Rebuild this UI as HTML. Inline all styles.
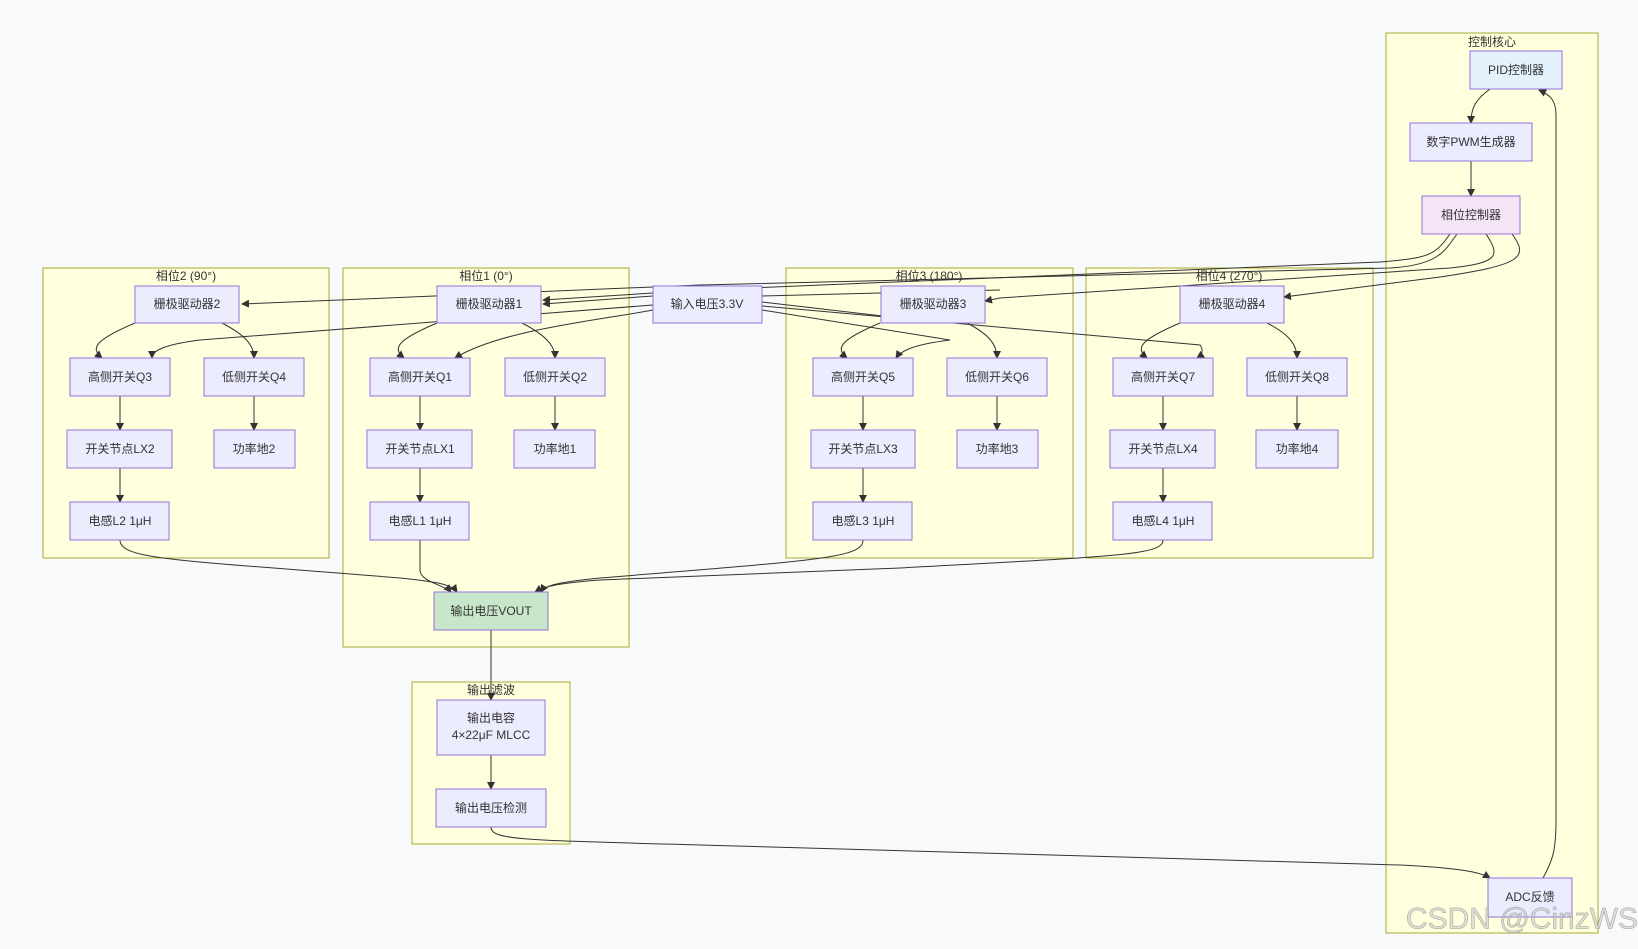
<!DOCTYPE html>
<html><head><meta charset="utf-8"><style>
body{margin:0;background:#f8f9fa;}
svg{display:block;font-family:"Liberation Sans","Noto Sans CJK SC",sans-serif;}
.c{fill:#ffffde;stroke:#aaaa33;stroke-width:1;}
.n{fill:#ececff;stroke:#9370db;stroke-width:1;}
.e{fill:none;stroke:#333;stroke-width:1;marker-end:url(#a);}
.p{fill:none;stroke:#333;stroke-width:1;}
text{font-size:12px;fill:#333;text-anchor:middle;dominant-baseline:central;}
</style></head><body>
<svg width="1638" height="949" viewBox="0 0 1638 949">
<defs><marker id="a" markerWidth="8" markerHeight="8" refX="7" refY="4" orient="auto" markerUnits="userSpaceOnUse"><path d="M0,0L8,4L0,8z" fill="#333"/></marker></defs>
<rect x="0" y="0" width="1638" height="949" fill="#f8f9fa"/>
<rect class="c" x="43" y="268" width="286" height="290"/><text x="186" y="276">相位2 (90°)</text>
<rect class="c" x="343" y="268" width="286" height="379"/><text x="486" y="276">相位1 (0°)</text>
<rect class="c" x="786" y="268" width="287" height="290"/><text x="929" y="276">相位3 (180°)</text>
<rect class="c" x="1086" y="268" width="287" height="290"/><text x="1229" y="276">相位4 (270°)</text>
<rect class="c" x="1386" y="33" width="212" height="900"/><text x="1492" y="42">控制核心</text>
<rect class="c" x="412" y="682" width="158" height="162"/><text x="491" y="690">输出滤波</text>
<g>
<path class="e" d="M1490,89 C1475,100 1471,108 1471,123"/>
<path class="e" d="M1471,161 L1471,196"/>
<path class="e" d="M1450,234 C1435,255 1430,258 1380,262 L700,290 L543,300"/>
<path class="e" d="M1457,234 C1445,250 1440,265 1390,268 L700,285 L242,304"/>
<path class="e" d="M1486,234 C1500,255 1500,263 1450,268 L1000,298 L985,301"/>
<path class="e" d="M1512,234 C1530,258 1520,265 1440,277 L1284,297"/>
<path class="e" d="M653,296 L543,304"/>
<path class="e" d="M653,310 C600,320 500,330 455,358"/>
<path class="e" d="M653,305 L200,340 C160,345 152,352 152,358"/>
<path class="e" d="M762,310 L950,340 C910,345 900,352 896,358"/>
<path class="e" d="M762,306 L1200,345 C1205,352 1200,356 1197,358"/>
<path class="p" d="M762,302 L900,318"/>
<path class="p" d="M762,296 L1000,290"/>
<path class="e" d="M135,323 C95,340 90,348 102,358"/><path class="e" d="M222,323 C245,335 254,345 254,358"/>
<path class="e" d="M437,323 C397,340 392,348 404,358"/><path class="e" d="M522,323 C545,335 555,345 555,358"/>
<path class="e" d="M880,323 C840,340 835,348 847,358"/><path class="e" d="M967,323 C990,335 997,345 997,358"/>
<path class="e" d="M1180,323 C1140,340 1135,348 1147,358"/><path class="e" d="M1267,323 C1290,335 1297,345 1297,358"/>
<path class="e" d="M120,396 L120,430"/><path class="e" d="M254,396 L254,430"/>
<path class="e" d="M120,468 L120,502"/>
<path class="e" d="M420,396 L420,430"/><path class="e" d="M555,396 L555,430"/>
<path class="e" d="M420,468 L420,502"/>
<path class="e" d="M863,396 L863,430"/><path class="e" d="M997,396 L997,430"/>
<path class="e" d="M863,468 L863,502"/>
<path class="e" d="M1163,396 L1163,430"/><path class="e" d="M1297,396 L1297,430"/>
<path class="e" d="M1163,468 L1163,502"/>
<path class="e" d="M120,540 C120,560 180,560 400,578 C440,582 452,585 457,592"/>
<path class="e" d="M420,540 L420,570 C420,582 445,585 451,592"/>
<path class="e" d="M863,540 C863,558 820,560 600,578 C560,582 545,585 541,592"/>
<path class="e" d="M1163,540 C1163,555 1120,556 900,568 L600,580 C560,583 545,586 535,592"/>
<path class="e" d="M491,630 L491,700"/>
<path class="e" d="M491,755 L491,789"/>
<path class="e" d="M491,827 C491,840 520,840 700,845 L1400,865 C1460,868 1480,872 1490,878"/>
<path class="e" d="M1543,878 C1553,860 1556,850 1556,820 L1556,115 C1556,100 1550,95 1539,90"/>
</g>
<g>
<rect class="n" x="1470" y="51" width="92" height="38" style="fill:#e3f2fd"/><text x="1516" y="70">PID控制器</text>
<rect class="n" x="1410" y="123" width="122" height="38"/><text x="1471" y="142">数字PWM生成器</text>
<rect class="n" x="1422" y="196" width="98" height="38" style="fill:#f3e5f5"/><text x="1471" y="215">相位控制器</text>
<rect class="n" x="1488" y="878" width="84" height="39"/><text x="1530" y="897">ADC反馈</text>
<rect class="n" x="653" y="286" width="109" height="37"/><text x="707" y="304">输入电压3.3V</text>
<rect class="n" x="135" y="286" width="104" height="37"/><text x="187" y="304">栅极驱动器2</text>
<rect class="n" x="70" y="358" width="100" height="38"/><text x="120" y="377">高侧开关Q3</text>
<rect class="n" x="204" y="358" width="100" height="38"/><text x="254" y="377">低侧开关Q4</text>
<rect class="n" x="67" y="430" width="105" height="38"/><text x="120" y="449">开关节点LX2</text>
<rect class="n" x="214" y="430" width="81" height="38"/><text x="254" y="449">功率地2</text>
<rect class="n" x="70" y="502" width="99" height="38"/><text x="120" y="521">电感L2 1μH</text>
<rect class="n" x="437" y="286" width="104" height="37"/><text x="489" y="304">栅极驱动器1</text>
<rect class="n" x="370" y="358" width="100" height="38"/><text x="420" y="377">高侧开关Q1</text>
<rect class="n" x="505" y="358" width="100" height="38"/><text x="555" y="377">低侧开关Q2</text>
<rect class="n" x="367" y="430" width="105" height="38"/><text x="420" y="449">开关节点LX1</text>
<rect class="n" x="514" y="430" width="81" height="38"/><text x="555" y="449">功率地1</text>
<rect class="n" x="370" y="502" width="99" height="38"/><text x="420" y="521">电感L1 1μH</text>
<rect class="n" x="881" y="286" width="104" height="37"/><text x="933" y="304">栅极驱动器3</text>
<rect class="n" x="813" y="358" width="100" height="38"/><text x="863" y="377">高侧开关Q5</text>
<rect class="n" x="947" y="358" width="100" height="38"/><text x="997" y="377">低侧开关Q6</text>
<rect class="n" x="811" y="430" width="104" height="38"/><text x="863" y="449">开关节点LX3</text>
<rect class="n" x="957" y="430" width="81" height="38"/><text x="997" y="449">功率地3</text>
<rect class="n" x="813" y="502" width="99" height="38"/><text x="863" y="521">电感L3 1μH</text>
<rect class="n" x="1180" y="286" width="104" height="37"/><text x="1232" y="304">栅极驱动器4</text>
<rect class="n" x="1113" y="358" width="100" height="38"/><text x="1163" y="377">高侧开关Q7</text>
<rect class="n" x="1247" y="358" width="100" height="38"/><text x="1297" y="377">低侧开关Q8</text>
<rect class="n" x="1110" y="430" width="105" height="38"/><text x="1163" y="449">开关节点LX4</text>
<rect class="n" x="1256" y="430" width="82" height="38"/><text x="1297" y="449">功率地4</text>
<rect class="n" x="1113" y="502" width="99" height="38"/><text x="1163" y="521">电感L4 1μH</text>
<rect class="n" x="434" y="592" width="114" height="38" style="fill:#c8e6c9"/><text x="491" y="611">输出电压VOUT</text>
<rect class="n" x="437" y="700" width="108" height="55"/><text x="491" y="718">输出电容</text><text x="491" y="735">4×22μF MLCC</text>
<rect class="n" x="436" y="789" width="110" height="38"/><text x="491" y="808">输出电压检测</text>
</g>
<text x="1522" y="919" style="font-size:30px;fill:#ccc;stroke:#999;stroke-width:0.5;fill-opacity:0.6">CSDN @CinzWS</text>
</svg>
</body></html>
